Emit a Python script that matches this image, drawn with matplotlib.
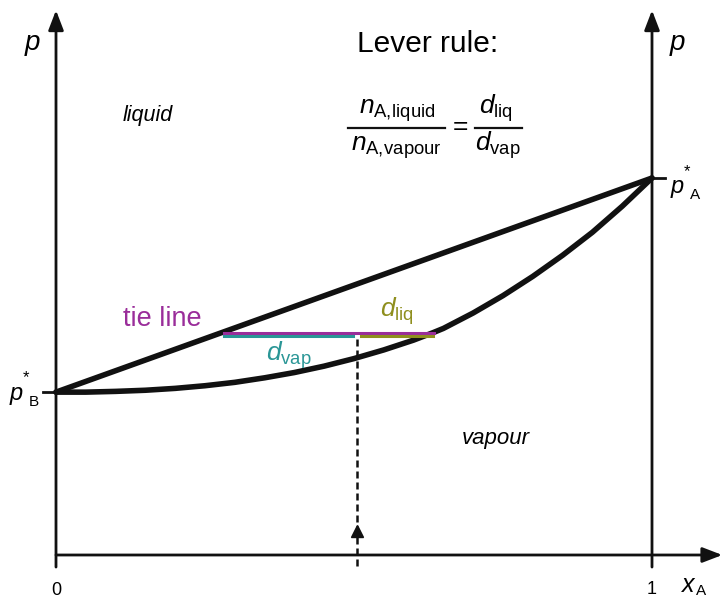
import numpy as np
import matplotlib.pyplot as plt

plt.rcParams['font.family'] = ['Liberation Sans', 'DejaVu Sans']
plt.rcParams['mathtext.fontset'] = 'custom'
plt.rcParams['mathtext.rm'] = 'Liberation Sans'
plt.rcParams['mathtext.it'] = 'Liberation Sans:italic'

# pure component vapour pressures (arbitrary units)
p_B = 0.432
p_A = 1.0

# liquid line (straight)
x_liq_line = [0.0, 1.0]
p_liq_line = [p_B, p_A]

# vapour curve
x_vap_curve = [0.0, 0.05, 0.10, 0.15, 0.20, 0.25, 0.30, 0.35, 0.40, 0.45, 0.50,
               0.55, 0.60, 0.633, 0.65, 0.70, 0.75, 0.80, 0.85, 0.90, 0.95, 1.0]
p_vap_curve = [0.432, 0.432, 0.434, 0.437, 0.442, 0.449, 0.458, 0.470, 0.484, 0.501, 0.521,
               0.544, 0.570, 0.590, 0.601, 0.642, 0.688, 0.739, 0.795, 0.856, 0.925, 1.0]

# tie line
p_tie = 0.589
x_tie_liq = 0.282
x_tie_vap = 0.634
x_mix = 0.505

black = '#111111'
magenta = '#9a2d9a'
teal = '#2a9696'
olive = '#8f8f1e'

fig = plt.figure(figsize=(7.23, 5.99), dpi=100)
ax = fig.add_axes([0, 0, 1, 1])
ax.set_xlim(-56 / 596, 667 / 596)
ax.set_ylim(-44 / 377, 555 / 377)
ax.axis('off')

arrow = dict(arrowstyle='-|>,head_length=0.6,head_width=0.23', lw=2, color=black,
             shrinkA=0, shrinkB=0, mutation_scale=20)
ax.annotate('', xy=(0, 1.445), xytext=(0, -0.032), arrowprops=arrow)
ax.annotate('', xy=(1, 1.445), xytext=(1, -0.032), arrowprops=arrow)
ax.annotate('', xy=(1.118, 0), xytext=(0, 0), arrowprops=arrow)

# ticks for p*
ax.plot([-0.021, 0], [p_B, p_B], color=black, lw=2)
ax.plot([1, 1.022], [p_A, p_A], color=black, lw=2)

# curves
ax.plot(x_liq_line, p_liq_line, color=black, lw=4, solid_capstyle='round')
ax.plot(x_vap_curve, p_vap_curve, color=black, lw=4, solid_joinstyle='round',
        solid_capstyle='round')

# tie line and lever arms
ax.plot([x_tie_liq, x_tie_vap], [p_tie, p_tie], color=magenta, lw=2.2)
ax.plot([x_tie_liq, x_mix - 0.006], [p_tie - 0.008, p_tie - 0.008], color=teal, lw=2.2)
ax.plot([x_mix + 0.006, x_tie_vap - 0.002], [p_tie - 0.008, p_tie - 0.008], color=olive, lw=2.2)

# overall composition
ax.plot([x_mix, x_mix], [-0.029, p_tie - 0.008], color=black, lw=1.8, ls=(0, (2.8, 1.6)))
ax.plot([x_mix], [0.063], marker='^', color=black, markersize=9)

# labels
ax.text(-0.04, 1.34, 'p', fontsize=20, style='italic', ha='center', va='baseline')
ax.text(1.042, 1.34, 'p', fontsize=20, style='italic', ha='center', va='baseline')

ax.text(1.043, p_A - 0.04, 'p', fontsize=17, style='italic', ha='center', va='baseline')
ax.text(1.059, p_A + 0.004, '*', fontsize=12, ha='center', va='baseline')
ax.text(1.072, p_A - 0.056, 'A', fontsize=11, ha='center', va='baseline')

ax.text(-0.067, p_B - 0.02, 'p', fontsize=17, style='italic', ha='center', va='baseline')
ax.text(-0.051, p_B + 0.026, '*', fontsize=12, ha='center', va='baseline')
ax.text(-0.037, p_B - 0.036, 'B', fontsize=11, ha='center', va='baseline')

ax.text(0.0, -0.106, '0', fontsize=13, ha='center', va='baseline')
ax.text(1.0, -0.103, '1', fontsize=13, ha='center', va='baseline')
ax.text(1.060, -0.098, 'x', fontsize=18, style='italic', ha='center', va='baseline')
ax.text(1.083, -0.105, 'A', fontsize=11, ha='center', va='baseline')

ax.text(0.154, 1.151, 'liquid', fontsize=15.5, style='italic', ha='center', va='baseline')
ax.text(0.738, 0.295, 'vapour', fontsize=16, style='italic', ha='center', va='baseline')
ax.text(0.178, 0.607, 'tie line', fontsize=19.5, color=magenta, ha='center', va='baseline')
ax.text(0.572, 0.631, r'$d_{\mathrm{liq}}$', fontsize=19, color=olive, ha='center', va='baseline')
ax.text(0.391, 0.515, r'$d_{\mathrm{vap}}$', fontsize=19, color=teal, ha='center', va='baseline')

# lever rule
ax.text(0.624, 1.334, 'Lever rule:', fontsize=21.5, ha='center', va='baseline')
ax.text(0.572, 1.170, r'$n_{\mathrm{A,\!liquid}}$', fontsize=19, ha='center', va='baseline')
ax.text(0.571, 1.072, r'$n_{\mathrm{A,\!vapour}}$', fontsize=19, ha='center', va='baseline')
ax.plot([0.490, 0.653], [1.133, 1.133], color=black, lw=1.6)
ax.text(0.678, 1.118, '=', fontsize=19, ha='center', va='baseline')
ax.text(0.738, 1.170, r'$d_{\mathrm{liq}}$', fontsize=19, ha='center', va='baseline')
ax.text(0.742, 1.072, r'$d_{\mathrm{vap}}$', fontsize=19, ha='center', va='baseline')
ax.plot([0.703, 0.782], [1.133, 1.133], color=black, lw=1.6)

fig.savefig('out.png', dpi=100)
